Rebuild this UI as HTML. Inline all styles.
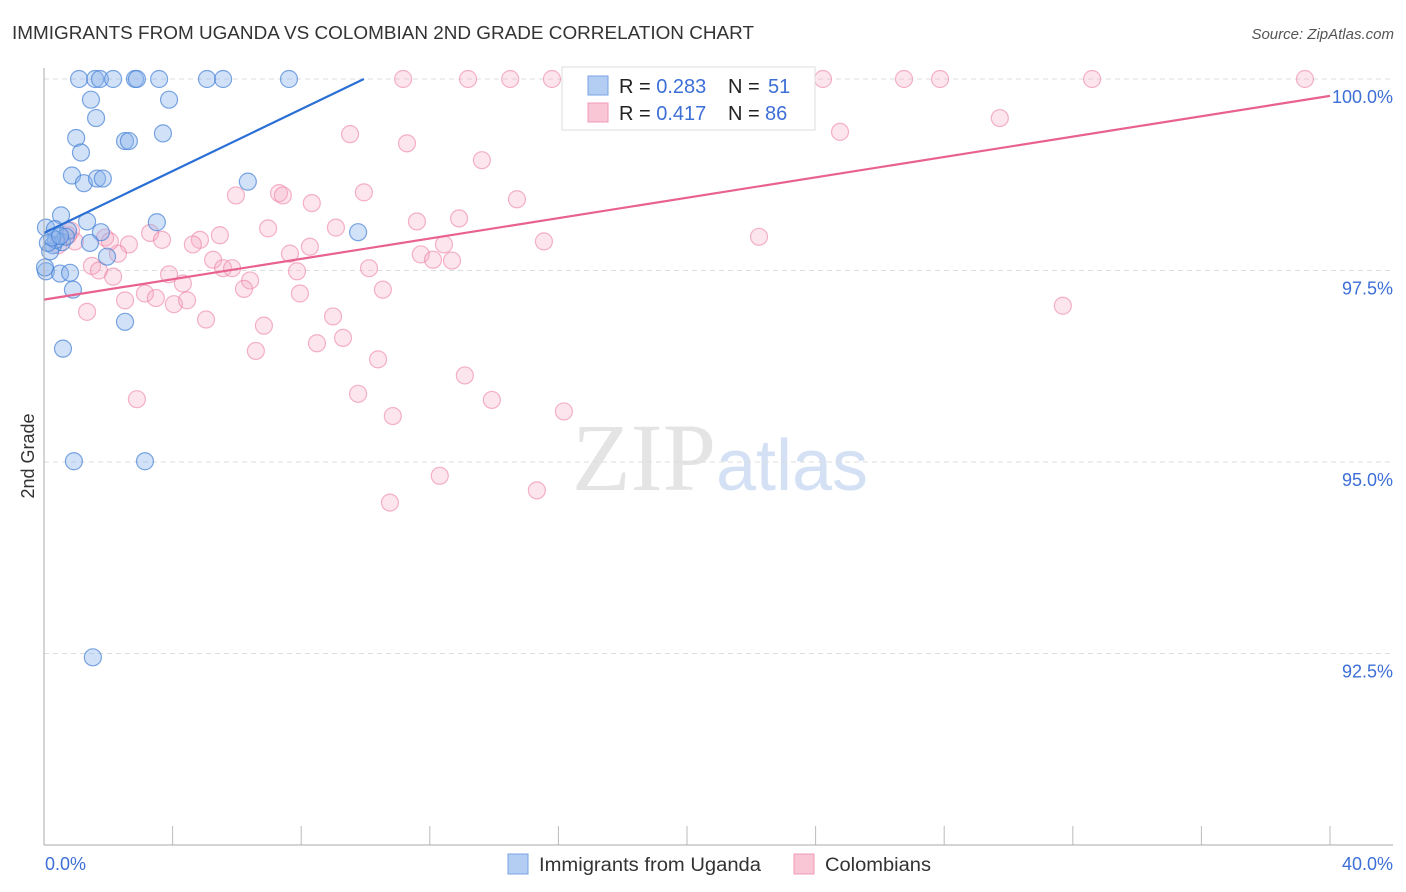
<!DOCTYPE html>
<html><head><meta charset="utf-8"><style>
body{margin:0;background:#fff;font-family:"Liberation Sans",sans-serif;}
svg{display:block}
</style></head><body>
<svg id="chart" width="1406" height="892" xmlns="http://www.w3.org/2000/svg">
<text x="12" y="39" font-size="18" fill="#333" textLength="742" lengthAdjust="spacingAndGlyphs">IMMIGRANTS FROM UGANDA VS COLOMBIAN 2ND GRADE CORRELATION CHART</text>
<text x="1394" y="39" font-size="15" fill="#555" text-anchor="end" font-style="italic">Source: ZipAtlas.com</text>
<text x="720" y="490" font-size="96" text-anchor="middle" fill="#e4e4e4" font-family="Liberation Serif,serif">ZIP<tspan fill="#d4e1f5" font-family="Liberation Sans,sans-serif" font-size="72">atlas</tspan></text>
<text transform="translate(34,456) rotate(-90)" font-size="18" fill="#333" text-anchor="middle">2nd Grade</text>
<g id="grid"></g><g id="pts"></g><g id="lines"></g>
<line x1="44" y1="68" x2="44" y2="845" stroke="#aaa"/>
<line x1="44" y1="845" x2="1393" y2="845" stroke="#aaa"/>
<text x="45" y="870" font-size="18" fill="#3d6fd6">0.0%</text>
<text x="1393" y="870" font-size="18" fill="#3d6fd6" text-anchor="end">40.0%</text>
<g>
<rect x="562" y="67" width="253" height="63" fill="#fff" stroke="#ddd"/>
<rect x="588" y="76" width="20" height="19" fill="#b4cdf3" stroke="#7aa3e6"/>
<rect x="588" y="103" width="20" height="19" fill="#f9c6d5" stroke="#f09ab6"/>
<text x="619" y="93" font-size="20" fill="#222">R = <tspan fill="#3d6fd6">0.283</tspan><tspan x="728">N = </tspan><tspan x="768" fill="#3d6fd6">51</tspan></text>
<text x="619" y="120" font-size="20" fill="#222">R = <tspan fill="#3d6fd6">0.417</tspan><tspan x="728">N = </tspan><tspan x="765" fill="#3d6fd6">86</tspan></text>
</g>
<g>
<rect x="508" y="854" width="20" height="20" fill="#b4cdf3" stroke="#7aa3e6"/>
<text x="539" y="871" font-size="19" fill="#333" textLength="222" lengthAdjust="spacingAndGlyphs">Immigrants from Uganda</text>
<rect x="794" y="854" width="20" height="20" fill="#f9c6d5" stroke="#f09ab6"/>
<text x="825" y="871" font-size="19" fill="#333" textLength="106" lengthAdjust="spacingAndGlyphs">Colombians</text>
</g>
</svg>
<script>
const yTicks=[100,97.5,95,92.5];
const yTickLabels=["100.0%","97.5%","95.0%","92.5%"];
const xTicks=[0,4,8,12,16,20,24,28,32,36,40];
const blueX=[1.09,1.59,1.74,2.15,2.83,2.89,3.58,5.07,5.57,7.62,1.46,3.89,1.62,1.0,1.15,3.7,2.52,2.64,0.87,1.24,1.65,1.83,6.34,0.53,1.34,3.51,9.77,0.06,0.34,0.75,1.77,0.56,1.43,0.28,1.96,0.19,0.06,0.5,0.81,0.9,2.52,0.59,0.93,3.14,1.52,0.68,0.37,0.12,0.25,0.5,0.03];
const blueY=[100,100,100,100,100,100,100,100,100,100,99.73,99.73,99.49,99.23,99.04,99.29,99.19,99.19,98.74,98.64,98.7,98.7,98.66,98.22,98.14,98.13,98.0,98.06,98.04,98.02,98.0,97.87,97.86,97.83,97.68,97.75,97.49,97.46,97.47,97.25,96.83,96.48,95.01,95.01,92.45,97.94,97.9,97.86,97.93,97.95,97.54];
const pinkX=[11.17,13.19,14.5,15.8,19.03,21.33,24.23,26.75,27.87,32.6,39.22,9.52,11.29,13.62,24.76,29.73,5.97,7.31,7.43,8.33,9.95,14.71,11.6,12.91,6.97,9.08,3.3,5.47,3.67,4.85,2.64,4.63,12.44,15.55,22.24,7.65,8.27,11.72,12.1,12.69,5.26,5.57,5.85,7.87,10.11,1.49,1.71,2.15,3.89,2.3,4.32,6.41,6.22,10.54,7.96,3.14,2.52,3.48,4.04,4.45,1.34,5.04,6.84,8.99,8.49,9.3,6.59,10.39,13.09,2.89,9.77,13.93,10.85,16.17,12.31,15.33,10.76,31.69,1.9,0.96,0.75,0.44,2.05,0.84];
const pinkY=[100,100,100,100,100,100,100,100,100,100,100,99.28,99.16,98.94,99.31,99.49,98.48,98.51,98.48,98.38,98.52,98.43,98.14,98.18,98.05,98.06,97.99,97.96,97.9,97.9,97.84,97.84,97.84,97.88,97.94,97.72,97.81,97.71,97.64,97.63,97.64,97.53,97.53,97.49,97.53,97.56,97.5,97.42,97.45,97.72,97.33,97.37,97.26,97.25,97.2,97.2,97.11,97.14,97.06,97.11,96.96,96.86,96.78,96.9,96.55,96.62,96.45,96.34,96.13,95.82,95.89,95.81,95.6,95.66,94.82,94.63,94.47,97.04,97.93,97.88,97.96,97.83,97.88,98.02];
const blueLine=[[0,97.99],[9.95,100]];
const pinkLine=[[0,97.12],[40,99.78]];
const X=v=>44+v/40*1286;
const Y=v=>79+(100-v)/2.5*191.5;
const NS="http://www.w3.org/2000/svg";
function mk(t,a,p){const e=document.createElementNS(NS,t);for(const k in a)e.setAttribute(k,a[k]);p.appendChild(e);return e;}
const grid=document.getElementById('grid');
yTicks.forEach((t,i)=>{
  const l=mk('line',{x1:44,x2:1393,y1:Y(t),y2:Y(t),stroke:'#ddd','stroke-dasharray':'5,4'},grid);
  
  
  const tx=mk('text',{x:1393,y:Y(t)+24,'font-size':18,fill:'#3d6fd6','text-anchor':'end'},grid);
  tx.textContent=yTickLabels[i];
  
  
});
xTicks.forEach(t=>{
  const l=mk('line',{x1:X(t),x2:X(t),y1:826,y2:845,stroke:'#bbb'},grid);
  
  
});
const pts=document.getElementById('pts');
pinkX.forEach((x,i)=>{
  const c=mk('circle',{cx:X(x),cy:Y(pinkY[i]),r:8.5,fill:'rgba(246,170,195,0.3)',stroke:'rgba(236,130,165,0.6)','stroke-width':1.2},pts);
  
  
});
blueX.forEach((x,i)=>{
  const c=mk('circle',{cx:X(x),cy:Y(blueY[i]),r:8.5,fill:'rgba(140,180,235,0.4)',stroke:'rgba(70,130,215,0.7)','stroke-width':1.2},pts);
  
  
});
const lines=document.getElementById('lines');
const bl=mk('line',{x1:X(blueLine[0][0]),y1:Y(blueLine[0][1]),x2:X(blueLine[1][0]),y2:Y(blueLine[1][1]),stroke:'#2a6fd6','stroke-width':2.2},lines);


const pl=mk('line',{x1:X(pinkLine[0][0]),y1:Y(pinkLine[0][1]),x2:X(pinkLine[1][0]),y2:Y(pinkLine[1][1]),stroke:'#e8618f','stroke-width':2.2},lines);


</script>
</body></html>
